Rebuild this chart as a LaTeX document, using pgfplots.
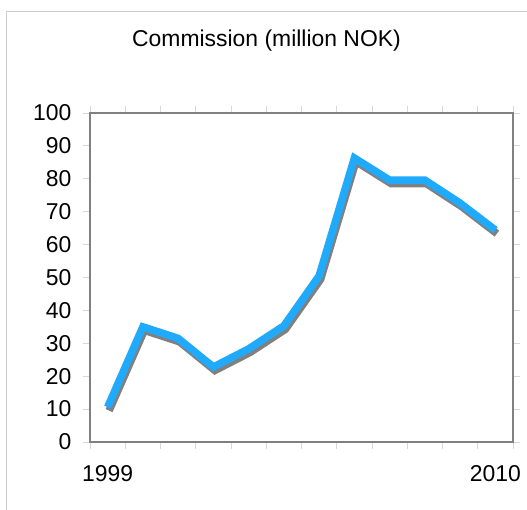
\documentclass[border=0pt]{standalone}
\usepackage{pgfplots}
\pgfplotsset{compat=1.18}
\usepackage{fontspec}
\setmainfont{Liberation Sans}
\definecolor{lineblue}{RGB}{32,170,252}
\definecolor{shadowgray}{RGB}{128,128,128}
\definecolor{axisgray}{RGB}{128,128,128}
\definecolor{tickgray}{RGB}{215,215,215}
\definecolor{framegray}{RGB}{205,205,205}
\pgfplotstableread{
x y
0 10.6
1 35.0
2 31.5
3 22.8
4 28.3
5 35.3
6 50.5
7 86.3
8 79.6
9 79.6
10 72.6
11 64.4
}\commission
\begin{document}
\begin{tikzpicture}[x=1bp,y=1bp]
\fill[white] (0,0) rectangle (527,510);
\draw[framegray, line width=1bp] (6,0) -- (6,498) -- (527,498);
\node[font=\fontsize{23}{27}\selectfont, anchor=center] at (266.5,469) {Commission (million NOK)};
\begin{axis}[
  at={(90bp,68bp)}, anchor=south west,
  scale only axis, width=423bp, height=329bp,
  xmin=-0.5, xmax=11.5, ymin=0, ymax=100,
  ytick={0,10,...,100},
  xtick={-0.5,0.5,...,11.5},
  xticklabels={},
  extra x ticks={0,11},
  extra x tick labels={1999,2010},
  extra x tick style={major tick length=0pt},
  tick align=outside,
  major tick length=7bp,
  tick style={draw=tickgray, line width=0.8bp},
  axis line style={draw=axisgray, line width=1.6bp},
  ticklabel style={font=\fontsize{23}{27}\selectfont},
  /pgf/number format/assume math mode=true,
  yticklabel style={xshift=-8bp},
  xticklabel style={yshift=-20bp},
  clip=false,
]
\addplot[shadowgray, line width=7.5bp, line join=miter, transform canvas={xshift=1.5bp,yshift=-3.5bp}] table[x=x,y=y] {\commission};
\addplot[lineblue, line width=7.5bp, line join=miter] table[x=x,y=y] {\commission};
\end{axis}
\pgfresetboundingbox
\useasboundingbox (0,0) rectangle (527,510);
\end{tikzpicture}
\end{document}
